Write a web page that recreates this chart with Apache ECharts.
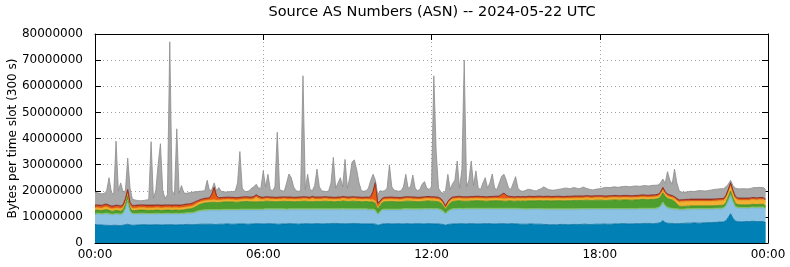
<!DOCTYPE html>
<html>
<head>
<meta charset="utf-8">
<script src="https://cdn.jsdelivr.net/npm/echarts@6/dist/echarts.min.js"></script>
<style>html,body{margin:0;padding:0;background:#fff;}#c{width:790px;height:267px;}</style>
</head>
<body>
<div id="c"></div>
<script>
// Values in units of 100 000 bytes per 300 s slot, 288 slots (00:00 .. 23:55)
const UNIT = 100000;
const xTickLabels = ['00:00', '06:00', '12:00', '18:00', '00:00'];
const TICK_EVERY = 72; // slots between labelled ticks (6 h)

const blue = [
70,70,69,69,68,68,67,67,68,68,67,67,68,70,72,69,68,68,69,69,70,70,70,69,
69,70,70,70,69,69,70,70,70,70,69,69,70,70,70,71,71,70,70,71,71,72,72,72,
72,72,72,71,71,72,72,72,73,73,72,72,72,73,73,73,73,72,72,73,73,74,74,73,
73,73,74,74,73,73,72,72,73,73,73,74,74,73,73,72,73,73,74,74,73,73,74,74,
74,73,73,74,74,74,75,75,74,74,74,73,74,74,74,75,74,74,73,73,73,73,73,73,
72,68,70,73,73,74,74,73,73,74,74,73,73,74,74,73,73,74,74,74,73,73,74,74,
74,73,73,73,72,71,68,71,72,73,73,73,74,74,73,73,74,74,74,73,73,73,74,74,
74,74,73,73,73,74,74,74,73,73,74,74,73,73,72,72,72,72,73,73,72,72,72,72,
71,71,70,70,70,70,70,71,71,71,70,70,71,71,71,71,71,72,72,71,71,71,72,72,
72,72,73,72,72,72,73,73,73,74,74,74,73,73,73,74,74,74,74,75,75,75,74,74,
75,76,78,86,78,76,75,75,74,74,74,75,75,76,76,76,77,77,76,76,77,77,78,78,
78,79,79,80,80,81,85,98,112,95,84,82,81,81,82,82,82,83,83,82,82,82,82,78
];
const lightBlue = [
40,41,41,40,42,42,42,41,40,42,42,41,44,60,90,50,42,42,41,42,41,41,40,41,
41,40,41,41,41,41,41,41,41,40,42,42,40,41,41,41,41,42,43,45,48,49,50,51,
51,52,52,53,53,52,52,53,52,52,53,53,53,52,52,53,53,54,54,53,53,52,52,53,
53,54,53,53,54,54,55,55,54,54,53,53,53,54,54,55,54,54,53,53,54,54,53,53,
53,54,54,53,53,53,52,52,53,53,54,54,53,53,53,52,53,53,54,54,54,53,53,53,
50,40,47,52,53,52,52,53,53,52,52,53,54,54,53,54,54,53,53,53,54,55,54,54,
54,55,55,54,52,48,42,48,52,54,55,55,55,54,55,56,55,55,55,56,56,56,55,55,
55,55,56,56,56,55,55,55,56,56,55,55,56,56,56,56,55,55,55,55,56,56,56,56,
56,56,57,57,57,57,57,56,56,56,57,57,56,56,56,57,57,56,56,57,57,57,56,56,
56,56,55,56,56,56,55,55,55,54,54,54,55,55,55,54,54,55,55,54,54,54,55,55,
55,56,60,67,62,57,55,54,53,53,52,51,51,51,51,52,51,51,52,52,51,51,50,50,
50,50,50,50,50,50,55,62,70,62,53,51,51,51,50,50,50,51,51,51,52,52,52,50
];
const lightGreen = [
3,3,3,3,4,5,4,3,3,3,3,3,3,3,3,3,3,3,3,3,3,3,3,3,
3,3,3,3,3,3,3,3,3,3,3,3,3,3,3,4,4,4,4,4,4,4,4,4,
4,4,4,4,4,4,4,4,4,4,4,4,4,4,4,4,4,4,4,4,4,4,4,4,
4,4,4,4,4,4,4,4,4,4,4,4,4,4,4,4,4,4,4,4,4,4,4,4,
4,4,4,4,4,4,4,4,4,4,4,4,4,4,4,4,4,4,4,4,4,4,4,4,
4,3,4,4,4,4,4,4,4,4,4,4,4,4,4,4,4,4,4,4,4,4,4,4,
4,4,4,4,4,4,3,4,4,4,4,4,4,4,4,4,4,4,4,4,4,4,4,4,
4,4,4,4,4,4,4,4,4,4,4,4,4,4,4,4,4,4,4,4,4,4,4,4,
4,4,4,4,4,4,4,4,4,4,4,4,4,4,4,4,4,4,4,4,4,4,4,4,
4,4,4,4,4,4,4,4,4,4,4,4,4,4,4,4,4,4,4,4,4,4,4,4,
4,4,4,4,4,4,4,4,4,4,4,4,4,4,4,4,4,4,4,4,4,4,4,4,
4,4,4,4,4,4,4,4,4,4,4,4,4,4,4,4,4,4,4,4,4,4,4,4
];
const green = [
12,12,12,12,13,13,12,11,11,12,12,11,12,14,16,12,11,11,12,12,12,12,12,12,
12,12,12,12,12,12,12,12,12,12,12,12,12,12,13,13,14,15,17,19,21,23,25,26,
27,27,28,28,27,27,28,28,28,29,28,28,27,27,28,28,29,29,28,28,27,27,28,28,
28,29,29,28,28,27,27,28,28,29,29,28,28,27,27,28,28,29,29,28,27,27,28,28,
28,28,29,29,28,28,27,27,28,28,29,29,28,28,29,29,28,28,27,27,28,28,27,27,
26,18,22,26,28,28,29,29,28,28,27,27,28,28,29,29,28,28,27,27,28,28,29,29,
28,28,27,27,25,20,15,20,25,28,28,29,29,28,28,27,27,28,28,29,29,28,28,27,
27,28,28,29,29,28,28,27,27,28,28,27,27,28,28,29,29,30,30,29,29,30,30,30,
30,31,31,30,30,31,31,31,30,30,31,31,31,32,32,31,31,31,32,32,31,31,32,32,
32,32,31,31,32,32,33,33,32,32,33,33,33,32,32,33,33,33,34,34,33,33,34,34,
34,34,34,35,34,34,33,32,28,18,11,10,10,10,10,10,10,10,10,10,10,10,10,10,
10,10,10,10,10,10,11,12,13,12,11,10,10,10,10,10,10,10,10,10,10,10,10,10
];
const yellow = [
9,9,9,9,10,10,9,9,9,9,9,9,9,10,11,9,9,9,9,9,9,9,9,9,
9,9,9,9,9,9,9,9,9,9,9,9,9,9,9,9,9,9,9,9,9,9,9,9,
9,9,9,10,9,9,9,9,9,9,9,9,9,9,9,9,9,9,9,9,12,18,12,9,
9,9,9,9,9,9,9,9,9,9,9,9,9,9,9,9,9,9,9,9,9,12,9,9,
9,9,9,9,9,9,9,9,9,9,9,9,9,9,9,9,9,9,9,9,9,9,9,9,
9,7,8,9,9,9,9,9,9,9,9,9,9,9,9,9,9,9,9,9,9,9,9,9,
9,9,9,9,9,8,7,8,9,9,9,9,9,9,9,9,9,9,9,9,9,9,9,9,
9,9,9,9,9,9,9,9,9,9,9,9,9,9,9,9,9,9,9,9,9,9,9,9,
9,9,9,9,9,9,9,9,9,9,9,9,9,9,9,9,9,9,9,9,9,9,9,9,
9,9,9,9,9,9,9,9,9,9,9,9,9,9,9,9,9,9,9,9,9,9,9,9,
9,9,10,11,10,9,9,9,10,13,16,18,18,18,18,18,18,18,18,18,18,18,18,18,
18,18,18,18,18,18,19,20,22,20,19,18,18,18,18,18,18,18,18,18,18,18,18,17
];
const orange = [
8,8,8,8,8,8,8,8,8,8,8,8,8,9,10,8,8,8,8,8,8,8,8,8,
8,8,8,8,8,8,8,8,8,8,8,8,8,8,8,8,8,8,8,8,7,7,7,7,
7,7,20,45,15,7,7,7,7,7,7,7,7,7,7,7,7,7,7,7,7,8,7,7,
6,6,6,6,6,6,6,6,6,6,6,6,6,6,6,6,6,6,6,6,6,7,6,6,
6,6,6,6,6,6,6,6,6,6,6,6,6,6,6,6,6,6,6,6,6,6,10,30,
70,15,7,6,6,6,6,6,6,6,6,6,6,6,6,6,6,6,6,6,6,6,6,6,
6,6,6,6,6,6,5,6,6,6,6,6,6,6,6,6,6,6,6,6,6,6,6,6,
6,6,6,6,6,8,14,20,12,7,6,6,6,6,6,6,6,6,6,6,6,6,6,6,
6,6,6,6,6,6,6,6,6,6,6,6,6,6,6,6,6,6,6,6,6,6,6,6,
6,6,6,6,6,6,6,6,6,6,6,6,6,6,6,6,6,6,6,6,6,6,6,6,
6,6,7,8,7,6,6,6,6,6,5,5,5,5,5,5,5,5,5,5,5,5,5,5,
5,5,5,5,5,5,6,6,7,6,5,5,5,5,5,5,5,5,5,5,5,5,5,5
];
const darkRed = [
3,3,3,3,3,3,3,3,3,3,3,3,3,3,3,3,3,3,3,3,3,3,3,3,
3,3,3,3,3,3,3,3,3,3,3,3,3,3,3,3,3,3,3,3,2,2,2,2,
2,2,2,2,2,2,2,2,2,2,2,2,2,2,2,2,2,2,2,2,2,2,2,2,
2,2,2,2,2,2,2,2,2,2,2,2,2,2,2,2,2,2,2,2,2,2,2,2,
2,2,2,2,2,2,2,2,2,2,2,2,2,2,2,2,2,2,2,2,2,2,2,2,
2,2,2,2,2,2,2,2,2,2,2,2,2,2,2,2,2,2,2,2,2,2,2,2,
2,2,2,2,2,2,2,2,2,2,2,2,2,2,2,2,2,2,2,2,2,2,2,2,
2,2,2,2,2,2,2,2,2,2,2,2,2,2,2,2,2,2,2,2,2,2,2,2,
2,2,2,2,2,2,2,2,2,2,2,2,2,2,2,2,2,2,2,2,2,2,2,2,
2,2,2,2,2,2,2,2,2,2,2,2,2,2,2,2,2,2,2,2,2,2,2,2,
2,2,2,2,2,2,2,2,2,3,3,3,3,3,3,3,3,3,3,3,3,3,3,3,
3,3,3,3,3,3,3,3,3,3,3,3,3,3,3,3,3,3,3,3,3,3,3,3
];
// top edge of the whole stack (grey layer top)
const grayTop = [
195,192,190,188,190,200,250,195,185,390,200,230,195,200,325,210,168,165,163,162,162,163,165,166,
388,172,200,300,380,200,170,185,770,200,185,437,190,220,192,190,192,193,195,196,197,198,199,200,
240,200,205,230,200,212,198,196,195,196,197,197,198,230,350,210,198,197,200,210,215,225,210,210,
276,215,263,205,200,215,424,205,200,198,230,264,250,215,200,198,200,640,205,263,205,200,220,283,
215,200,198,197,200,230,328,210,230,250,215,320,210,250,310,318,280,230,200,198,200,210,240,263,
240,185,200,198,200,210,299,215,202,200,198,200,215,263,210,215,260,210,200,205,225,235,210,205,
215,640,350,210,195,190,200,263,205,227,240,314,210,280,700,215,240,314,220,276,210,205,230,250,
210,230,264,210,205,230,255,263,240,210,205,230,254,210,200,198,200,205,205,203,200,200,205,208,
215,210,205,203,202,203,205,206,208,210,210,208,210,212,210,208,210,214,210,207,205,203,205,207,
208,210,212,213,212,213,215,214,213,215,216,217,216,215,217,218,218,217,218,220,219,218,220,221,
221,222,230,245,228,273,240,225,283,230,200,195,194,195,197,198,197,198,200,201,200,199,200,202,
203,205,206,207,208,208,215,225,240,220,210,208,207,208,208,207,208,210,212,212,213,212,212,205
];

const lower = [blue, lightBlue, lightGreen, green, yellow, orange, darkRed];
const gray = grayTop.map((t, i) => t - lower.reduce((s, a) => s + a[i], 0));

// category slots: 288 data slots plus the closing 24:00 boundary
const slots = [];
for (let i = 0; i <= 288; i++) slots.push(i % TICK_EVERY === 0 ? xTickLabels[i / TICK_EVERY] : '');

const layers = [
  { name: 'AS 1', data: blue,       fill: '#0080B4', edge: '#006C9A' },
  { name: 'AS 2', data: lightBlue,  fill: '#8CC3E4', edge: '#74AED4' },
  { name: 'AS 3', data: lightGreen, fill: '#98D070', edge: '#80BC5C' },
  { name: 'AS 4', data: green,      fill: '#4E9E2E', edge: '#3E8A24' },
  { name: 'AS 5', data: yellow,     fill: '#F2B030', edge: '#E09A20' },
  { name: 'AS 6', data: orange,     fill: '#E65A14', edge: '#D04A0C' },
  { name: 'AS 7', data: darkRed,    fill: '#9A2C2C', edge: '#802020' },
  { name: 'other', data: gray,      fill: '#A8A8A8', edge: '#8C8C8C' }
];

const FONT = 'DejaVu Sans';
const chart = echarts.init(document.getElementById('c'), null, { renderer: 'canvas' });
const series = layers.map(l => ({
  name: l.name,
  type: 'line',
  stack: 'all',
  symbol: 'none',
  showSymbol: false,
  smooth: false,
  data: l.data.map(v => v * UNIT),
  lineStyle: { width: 0.8, color: l.edge },
  areaStyle: { color: l.fill, opacity: 1 },
  itemStyle: { color: l.fill },
  emphasis: { disabled: true },
  z: 2
}));

const gridLine = { show: true, interval: TICK_EVERY - 1, lineStyle: { color: '#A0A0A0', width: 1, type: [1, 3] } };
const axisText = { fontFamily: FONT, fontSize: 12, color: '#000' };

chart.setOption({
  animation: false,
  backgroundColor: '#fff',
  grid: { left: 95, right: 22, top: 34, bottom: 24, containLabel: false, outerBoundsMode: 'none' },
  graphic: [{
    type: 'text', x: 432, y: 12,
    style: { text: 'Source AS Numbers (ASN) -- 2024-05-22 UTC', font: '14.5px "DejaVu Sans"', fill: '#000', textAlign: 'center', textVerticalAlign: 'middle' }
  }],
  xAxis: [{
    type: 'category', data: slots, boundaryGap: false, position: 'bottom',
    axisLine: { show: true, onZero: false, lineStyle: { color: '#000', width: 1 } },
    axisTick: { show: true, inside: true, length: 6, interval: TICK_EVERY - 1, lineStyle: { color: '#000' } },
    axisLabel: Object.assign({ margin: 6, interval: TICK_EVERY - 1, showMinLabel: true, showMaxLabel: true }, axisText),
    splitLine: gridLine
  }, {
    type: 'category', data: slots, boundaryGap: false, position: 'top',
    axisLine: { show: true, onZero: false, lineStyle: { color: '#000', width: 1 } },
    axisTick: { show: true, inside: true, length: 6, interval: TICK_EVERY - 1, lineStyle: { color: '#000' } },
    axisLabel: { show: false }, splitLine: { show: false }
  }],
  yAxis: [{
    type: 'value', min: 0, max: 80000000, interval: 10000000, position: 'left',
    name: 'Bytes per time slot (300 s)', nameLocation: 'middle', nameGap: 76, nameMoveOverlap: false,
    nameTextStyle: { fontFamily: FONT, fontSize: 12, color: '#000' },
    axisLine: { show: true, onZero: false, lineStyle: { color: '#000', width: 1 } },
    axisTick: { show: true, inside: true, length: 6, lineStyle: { color: '#000' } },
    axisLabel: Object.assign({ margin: 12, formatter: v => String(v) }, axisText),
    splitLine: { show: true, lineStyle: { color: '#A0A0A0', width: 1, type: [1, 3] } }
  }, {
    type: 'value', min: 0, max: 80000000, interval: 10000000, position: 'right',
    axisLine: { show: true, onZero: false, lineStyle: { color: '#000', width: 1 } },
    axisTick: { show: true, inside: true, length: 6, lineStyle: { color: '#000' } },
    axisLabel: { show: false }, splitLine: { show: false }
  }],
  series: series
});
</script>
</body>
</html>
